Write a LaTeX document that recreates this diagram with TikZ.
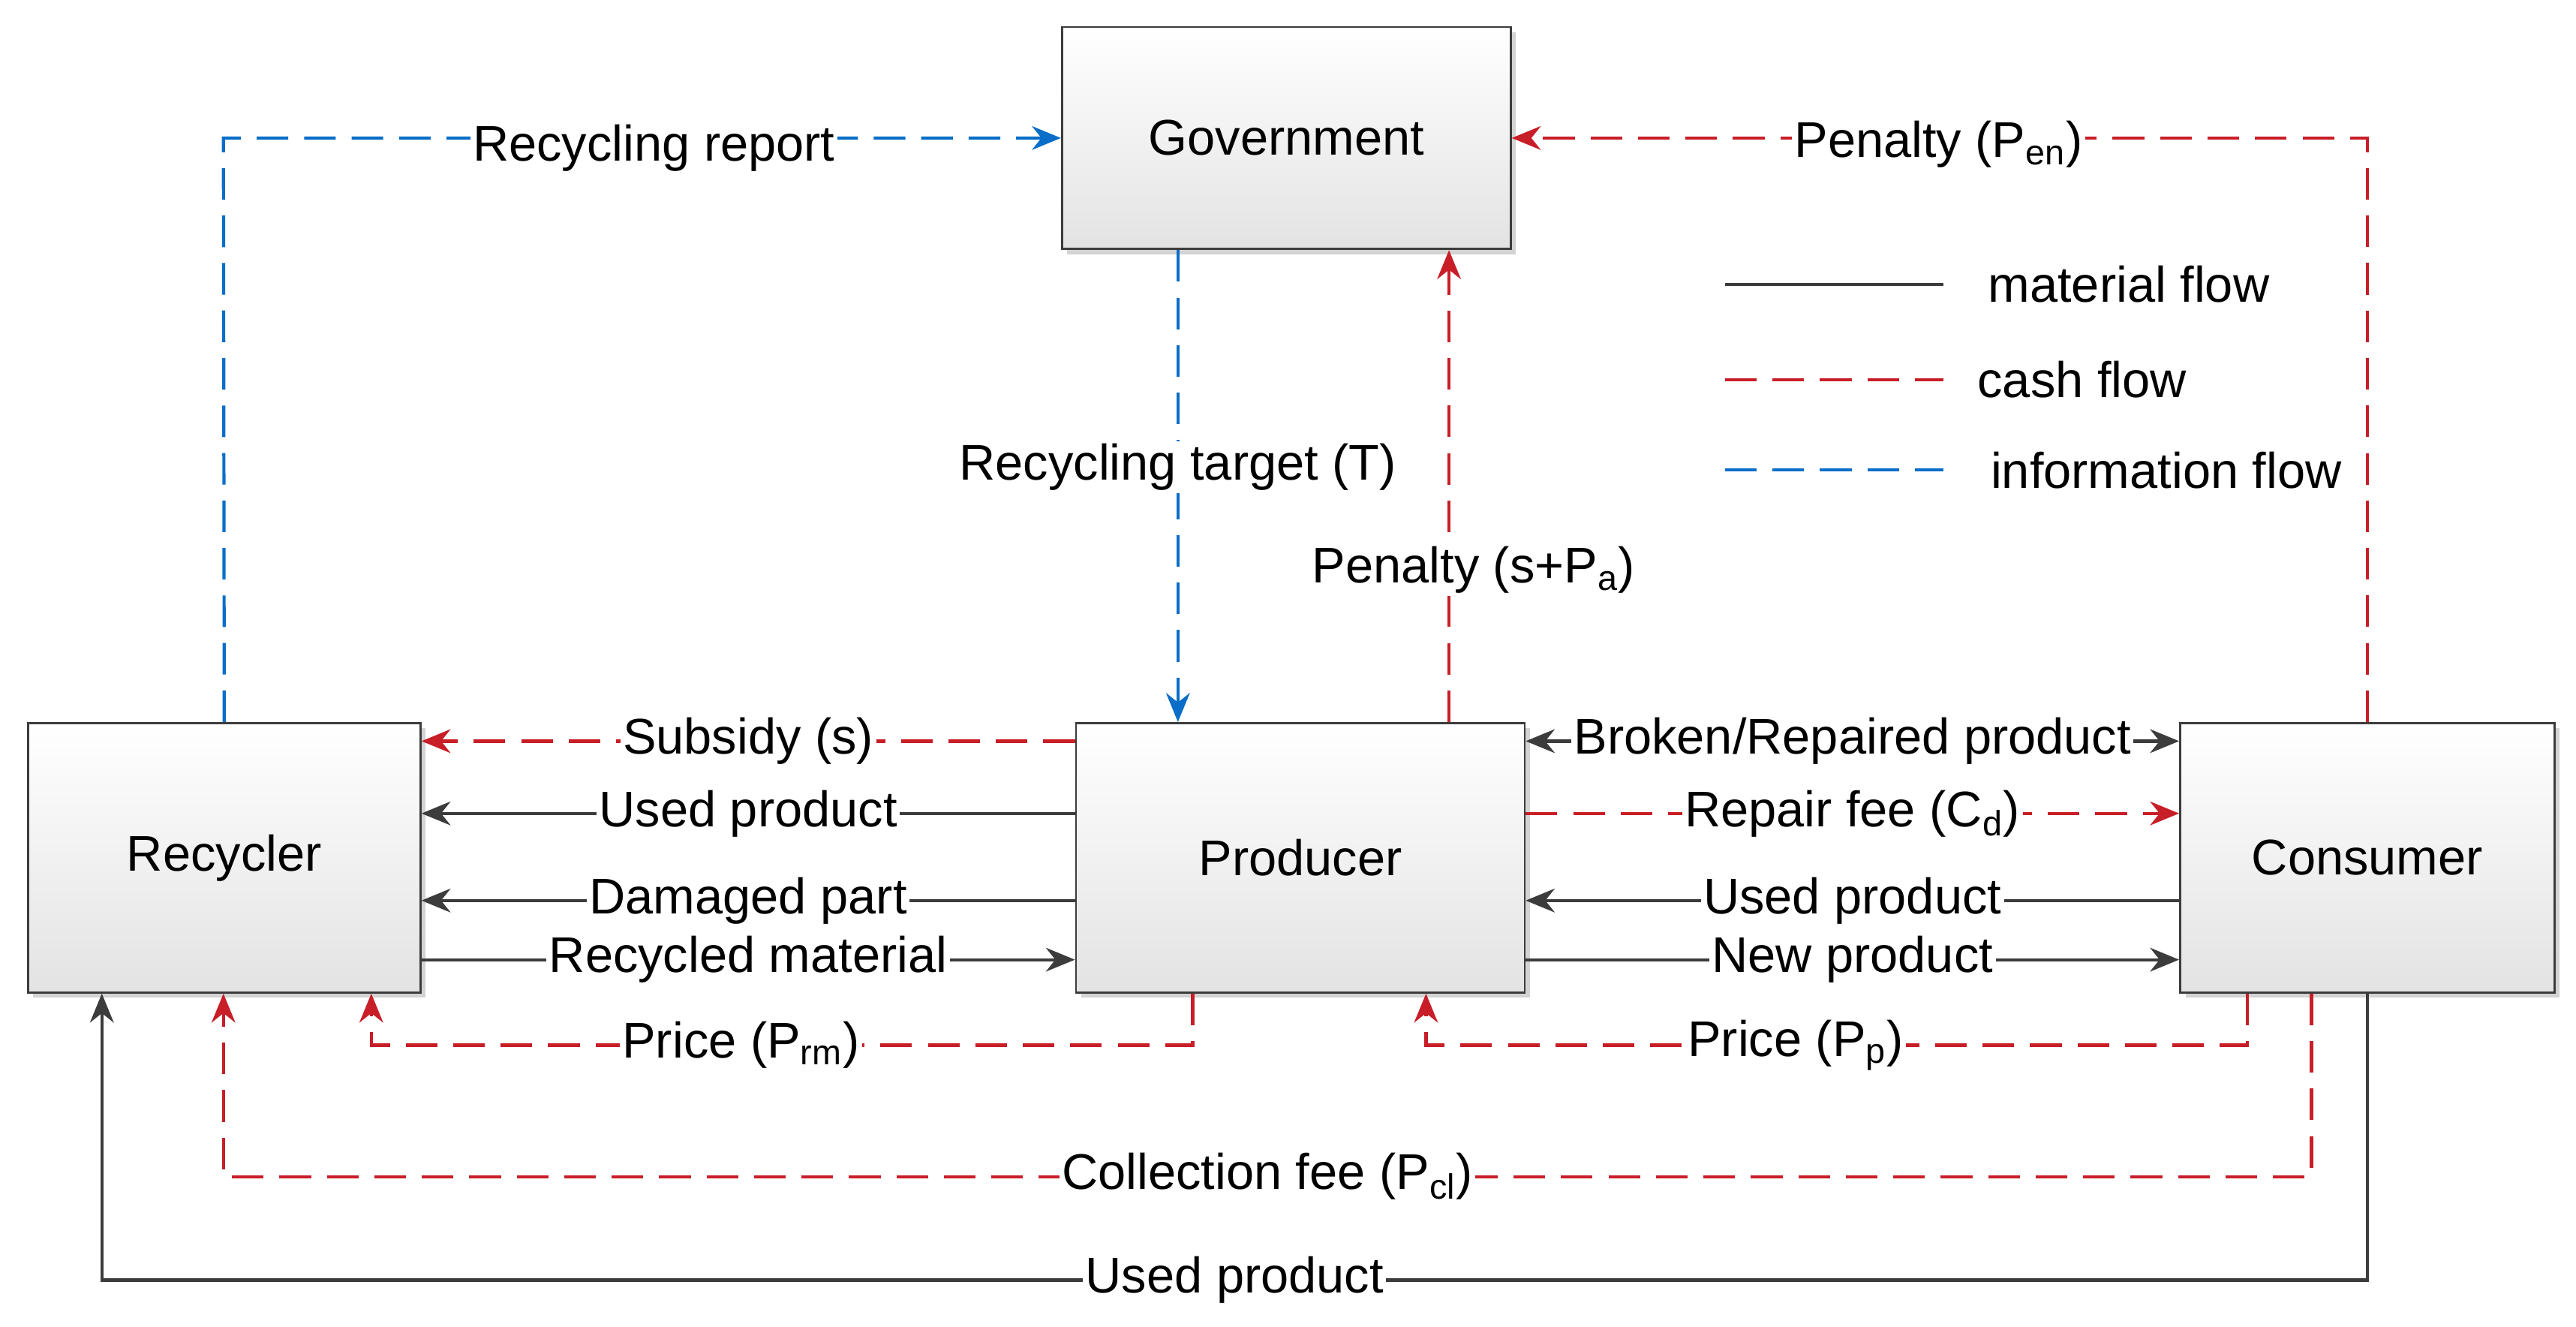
\documentclass[tikz,border=0pt]{standalone}
\usepackage{fontspec}
\setmainfont{Liberation Sans}
\usetikzlibrary{arrows.meta,shadows}
\definecolor{cashred}{RGB}{200,30,40}
\definecolor{infoblue}{RGB}{10,110,200}
\definecolor{matgray}{RGB}{60,60,60}
\begin{document}
\fontsize{19pt}{22pt}\selectfont
\begin{tikzpicture}[x=0.0219cm, y=-0.0219cm,
	box/.style = {draw=matgray, line width=0.8pt, top color=white, bottom color=gray!22,
		drop shadow={opacity=0.35, shadow xshift=2pt, shadow yshift=-2pt}},
	flow/.style = {line width=1.2pt, -{Stealth[length=11pt, width=9pt]}},
	mat/.style = {flow, matgray},
	cash/.style = {flow, cashred, dash pattern=on 12pt off 6pt},
	info/.style = {flow, infoblue, dash pattern=on 12pt off 6pt},
	lbl/.style = {fill=white, inner sep=1pt, text=black}]
	\useasboundingbox (0, 0) rectangle (1568, 807.5);

	% actors
	\node[box, minimum width=5.98cm, minimum height=2.96cm] (gov) at (783, 84) {Government};
	\node[box, minimum width=5.23cm, minimum height=3.59cm] (rec) at (136.5, 522) {Recycler};
	\node[box, minimum width=5.98cm, minimum height=3.59cm] (prod) at (791.5, 522) {Producer};
	\node[box, minimum width=4.99cm, minimum height=3.59cm] (cons) at (1441, 522) {Consumer};

	% government links
	\draw[info] (rec.north) -- (136, 84) -- (gov.west);
	\node[lbl] (rr) at (398, 90) {Recycling report};
	\draw[cash] (cons.north) -- (1441, 84) -- (gov.east);
	\node[lbl] (pen) at (1180, 88) {Penalty (P\textsubscript{en})};
	\draw[info] (gov.south -| 717, 0) -- node[lbl, pos=0.46] {Recycling target (T)} (prod.north -| 717, 0);
	\draw[cash] (prod.north -| 882, 0) -- (gov.south -| 882, 0);
	\node[lbl] (pena) at (897, 347) {Penalty (s+P\textsubscript{a})};

	% recycler - producer
	\draw[cash] (prod.west |- 0, 451) -- node[lbl] {Subsidy (s)} (rec.east |- 0, 451);
	\draw[mat] (prod.west |- 0, 495) -- node[lbl] {Used product} (rec.east |- 0, 495);
	\draw[mat] (prod.west |- 0, 548) -- node[lbl] {Damaged part} (rec.east |- 0, 548);
	\draw[mat] (rec.east |- 0, 584) -- node[lbl] {Recycled material} (prod.west |- 0, 584);
	\draw[cash] (prod.south -| 726, 0) -- (726, 636) -- node[lbl, pos=0.55] {Price (P\textsubscript{rm})} (226, 636) -- (rec.south -| 226, 0);

	% producer - consumer
	\draw[mat, {Stealth[length=11pt, width=9pt]}-{Stealth[length=11pt, width=9pt]}] (prod.east |- 0, 451) -- node[lbl] {Broken/Repaired product} (cons.west |- 0, 451);
	\draw[cash] (prod.east |- 0, 495) -- node[lbl] {Repair fee (C\textsubscript{d})} (cons.west |- 0, 495);
	\draw[mat] (cons.west |- 0, 548) -- node[lbl] {Used product} (prod.east |- 0, 548);
	\draw[mat] (prod.east |- 0, 584) -- node[lbl] {New product} (cons.west |- 0, 584);
	\draw[cash] (cons.south -| 1368, 0) -- (1368, 636) -- node[lbl, pos=0.55] {Price (P\textsubscript{p})} (868, 636) -- (prod.south -| 868, 0);

	% consumer - recycler
	\draw[cash] (cons.south -| 1407, 0) -- (1407, 716) -- node[lbl, pos=0.5] {Collection fee (P\textsubscript{cl})} (136, 716) -- (rec.south -| 136, 0);
	\draw[mat] (cons.south) -- (1441, 779) -- node[lbl, pos=0.5] {Used product} (62, 779) -- (rec.south -| 62, 0);

	% legend
	\coordinate (l1) at (1050, 173);
	\coordinate (l2) at (1050, 231);
	\coordinate (l3) at (1050, 286);
	\draw[matgray, line width=1.2pt] (l1) -- ++(133, 0) node[right=10pt, text=black] (lm) {material flow};
	\draw[cashred, line width=1.2pt, dash pattern=on 12pt off 6pt] (l2) -- ++(133, 0) node[right=6pt, text=black] (lc) {cash flow};
	\draw[infoblue, line width=1.2pt, dash pattern=on 12pt off 6pt] (l3) -- ++(133, 0) node[right=11pt, text=black] (li) {information flow};
\end{tikzpicture}
\end{document}
